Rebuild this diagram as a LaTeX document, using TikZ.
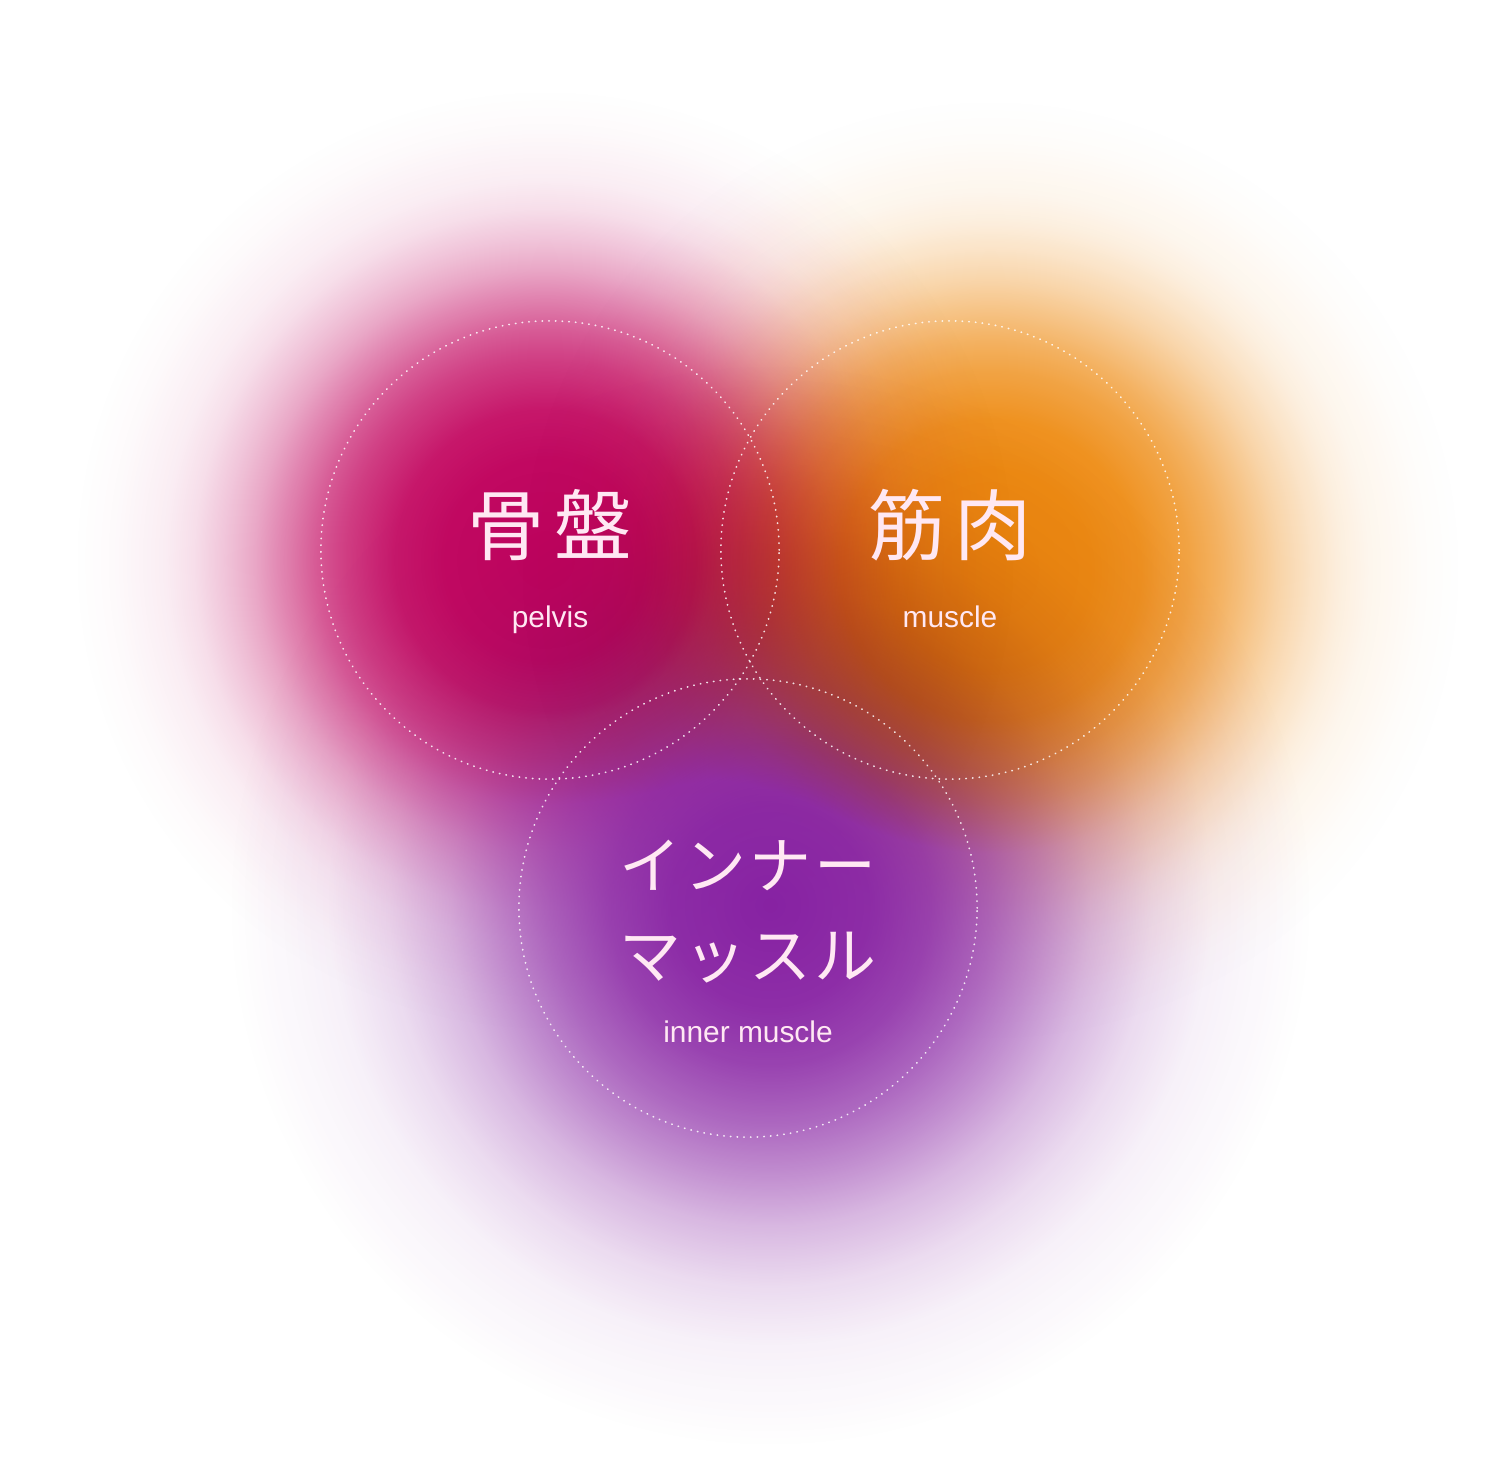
\documentclass[tikz,border=0pt]{standalone}
\usepackage{xcolor}
\usepackage{fontspec}
\setmainfont{Liberation Sans}
\newfontfamily\kanjifont[LetterSpace=12]{Noto Sans CJK JP}
\newfontfamily\kanafont[LetterSpace=5]{Noto Sans CJK JP}
\usepackage{tikz}
\usetikzlibrary{positioning, fadings}

\definecolor{pelviscol}{HTML}{C2045E}
\definecolor{musclecol}{HTML}{EE890E}
\definecolor{innercol}{HTML}{8620A2}
\definecolor{labelcol}{HTML}{FFE8F3}

% soft edges: the path's radius is 25bp here
\pgfdeclareradialshading{blobshade}{\pgfpointorigin}{%
  color(0bp)=(white); color(5.3bp)=(white!98!black); color(8bp)=(white!92!black);
  color(10.6bp)=(white!77!black); color(12.2bp)=(white!65!black);
  color(13.8bp)=(white!50!black); color(15.4bp)=(white!35!black);
  color(17bp)=(white!23!black); color(18.6bp)=(white!13!black);
  color(20.2bp)=(white!7!black); color(22.9bp)=(white!2!black);
  color(25bp)=(black); color(50bp)=(black)}
\pgfdeclarefading{blob}{\pgfuseshading{blobshade}}
\pgfdeclareradialshading{softshade}{\pgfpointorigin}{%
  color(0bp)=(white!99!black); color(4.6bp)=(white!94!black); color(7.4bp)=(white!84!black);
  color(10.2bp)=(white!67!black); color(12.5bp)=(white!50!black);
  color(14.8bp)=(white!32!black); color(17.6bp)=(white!16!black);
  color(20.4bp)=(white!6!black); color(25bp)=(black); color(50bp)=(black)}
\pgfdeclarefading{softblob}{\pgfuseshading{softshade}}

\tikzset{
  glow/.style={blend mode=multiply, path fading=blob},
  ring/.style={circle, draw=white, draw opacity=0.85, line width=0.5pt,
    dash pattern=on 0.1pt off 1.8pt, line cap=round,
    minimum size=4.58cm, inner sep=0pt},
  kanji/.style={text=labelcol, inner sep=0pt, font=\kanjifont\fontsize{22pt}{26pt}\selectfont},
  kana/.style={text=labelcol, inner sep=0pt, align=center,
    font=\kanafont\fontsize{17.6pt}{25.6pt}\selectfont},
  latin/.style={text=labelcol, inner sep=0pt, text height=6.2pt, text depth=1.8pt,
    font=\fontsize{8.5pt}{10pt}\selectfont}
}

\begin{document}
\begin{tikzpicture}[x=0.01cm, y=-0.01cm]
            \useasboundingbox (0,0) rectangle (1500,1458);
            \fill[white] (0,0) rectangle (1500,1458);
            % soft colour blobs
            \fill[musclecol, glow] (990,570) circle[radius=470];
            \fill[pelviscol, glow] (545,560) circle[radius=470];
            \fill[innercol, path fading=softblob, blend mode=darken] (770,905) circle[radius=540];
            % dotted rings
            \node[ring] (pelvis) at (550,550) {};
            \node[ring] (muscle) at (950,550) {};
            \node[ring] (inner) at (748,908) {};
            % labels
            \node[kanji, above of=pelvis, yshift=-0.75cm] (kotsuban) {骨盤};
            \node[latin, below of=kotsuban, yshift=0.05cm] (pelvislabel) {pelvis};
            \node[kanji, above of=muscle, yshift=-0.75cm] (kinniku) {筋肉};
            \node[latin, below of=kinniku, yshift=0.05cm] (musclelabel) {muscle};
            \node[kana, below of=inner, yshift=0.96cm] (innaa) {インナー\\マッスル};
            \node[latin, below of=inner, yshift=-0.27cm] (innerlabel) {inner muscle};
        \end{tikzpicture}
\end{document}
